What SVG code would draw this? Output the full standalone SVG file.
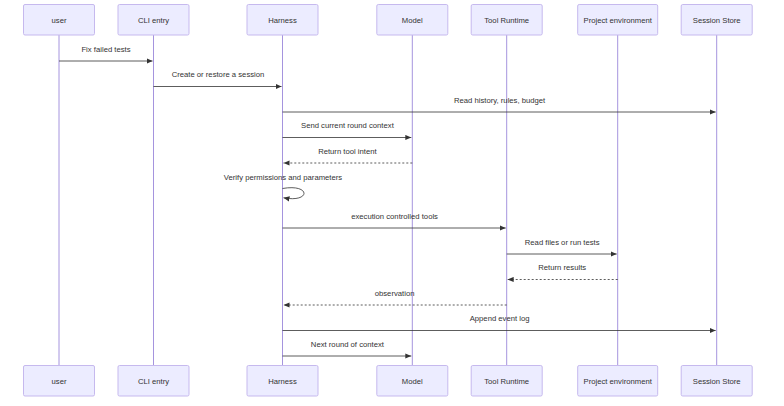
<svg xmlns="http://www.w3.org/2000/svg" width="784" height="406" viewBox="0 0 784 406">
<style>
.box{fill:#ECECFF;stroke:#C6B9EE;stroke-width:1}
.life{stroke:#A594DE;stroke-width:1;fill:none}
.lbl{font-family:"Liberation Sans",Arial,sans-serif;font-size:7.7px;fill:#333;text-anchor:middle;dominant-baseline:central}
.msg{font-family:"Liberation Sans",Arial,sans-serif;font-size:7.7px;fill:#333;text-anchor:middle}
.line{stroke:#333;stroke-width:0.8;fill:none;marker-end:url(#ah)}
.dash{stroke-dasharray:2,2}
</style>
<defs>
<marker id="ah" markerUnits="userSpaceOnUse" markerWidth="8" markerHeight="6" refX="6" refY="3" orient="auto">
<path d="M0,0.4 L6,3 L0,5.6 z" fill="#333"/>
</marker>
</defs>
<rect width="784" height="406" fill="#fff"/>
<g id="lifelines">
<line class="life" x1="59" y1="35" x2="59" y2="365.5"/>
<line class="life" x1="153.5" y1="35" x2="153.5" y2="365.5"/>
<line class="life" x1="282.5" y1="35" x2="282.5" y2="365.5"/>
<line class="life" x1="412.3" y1="35" x2="412.3" y2="365.5"/>
<line class="life" x1="506.7" y1="35" x2="506.7" y2="365.5"/>
<line class="life" x1="617.7" y1="35" x2="617.7" y2="365.5"/>
<line class="life" x1="716.7" y1="35" x2="716.7" y2="365.5"/>
</g>
<g id="user"><rect class="box" x="23.5" y="4.5" width="71" height="30.5" rx="1.5"/><text class="lbl" x="59" y="20">user</text>
<rect class="box" x="23.5" y="365.5" width="71" height="30.5" rx="1.5"/><text class="lbl" x="59" y="381">user</text></g>
<g id="cli"><rect class="box" x="118" y="4.5" width="71" height="30.5" rx="1.5"/><text class="lbl" x="153.5" y="20">CLI entry</text>
<rect class="box" x="118" y="365.5" width="71" height="30.5" rx="1.5"/><text class="lbl" x="153.5" y="381">CLI entry</text></g>
<g id="harness"><rect class="box" x="247" y="4.5" width="71" height="30.5" rx="1.5"/><text class="lbl" x="282.5" y="20">Harness</text>
<rect class="box" x="247" y="365.5" width="71" height="30.5" rx="1.5"/><text class="lbl" x="282.5" y="381">Harness</text></g>
<g id="model"><rect class="box" x="376.8" y="4.5" width="71" height="30.5" rx="1.5"/><text class="lbl" x="412.3" y="20">Model</text>
<rect class="box" x="376.8" y="365.5" width="71" height="30.5" rx="1.5"/><text class="lbl" x="412.3" y="381">Model</text></g>
<g id="toolruntime"><rect class="box" x="471.2" y="4.5" width="71" height="30.5" rx="1.5"/><text class="lbl" x="506.7" y="20">Tool Runtime</text>
<rect class="box" x="471.2" y="365.5" width="71" height="30.5" rx="1.5"/><text class="lbl" x="506.7" y="381">Tool Runtime</text></g>
<g id="project"><rect class="box" x="577.7" y="4.5" width="80" height="30.5" rx="1.5"/><text class="lbl" x="617.7" y="20">Project environment</text>
<rect class="box" x="577.7" y="365.5" width="80" height="30.5" rx="1.5"/><text class="lbl" x="617.7" y="381">Project environment</text></g>
<g id="session"><rect class="box" x="681.2" y="4.5" width="71" height="30.5" rx="1.5"/><text class="lbl" x="716.7" y="20">Session Store</text>
<rect class="box" x="681.2" y="365.5" width="71" height="30.5" rx="1.5"/><text class="lbl" x="716.7" y="381">Session Store</text></g>
<g id="connectors">
<line class="line" x1="59" y1="61" x2="152.5" y2="61"/>
<text class="msg" x="106" y="51.5">Fix failed tests</text>
<line class="line" x1="153.5" y1="86.5" x2="281.5" y2="86.5"/>
<text class="msg" x="218" y="77">Create or restore a session</text>
<line class="line" x1="282.5" y1="112" x2="715.7" y2="112"/>
<text class="msg" x="499.6" y="102.5">Read history, rules, budget</text>
<line class="line" x1="282.5" y1="137.5" x2="411.3" y2="137.5"/>
<text class="msg" x="347.4" y="128">Send current round context</text>
<line class="line dash" x1="412.3" y1="163" x2="283.5" y2="163"/>
<text class="msg" x="347.4" y="153.5">Return tool intent</text>
<text class="msg" x="283" y="179.5">Verify permissions and parameters</text>
<path class="line" d="M282.5,188.5 C311,183.5 311,203 283.5,197.8"/>
<line class="line" x1="282.5" y1="228" x2="505.7" y2="228"/>
<text class="msg" x="394.6" y="218.5">execution controlled tools</text>
<line class="line" x1="506.7" y1="254" x2="616.7" y2="254"/>
<text class="msg" x="562.2" y="244.5">Read files or run tests</text>
<line class="line dash" x1="617.7" y1="279.5" x2="507.7" y2="279.5"/>
<text class="msg" x="562.2" y="270">Return results</text>
<line class="line dash" x1="506.7" y1="305" x2="283.5" y2="305"/>
<text class="msg" x="394.6" y="295.5">observation</text>
<line class="line" x1="282.5" y1="330.5" x2="715.7" y2="330.5"/>
<text class="msg" x="499.6" y="321">Append event log</text>
<line class="line" x1="282.5" y1="356" x2="411.3" y2="356"/>
<text class="msg" x="347.4" y="346.5">Next round of context</text>
</g>
</svg>
